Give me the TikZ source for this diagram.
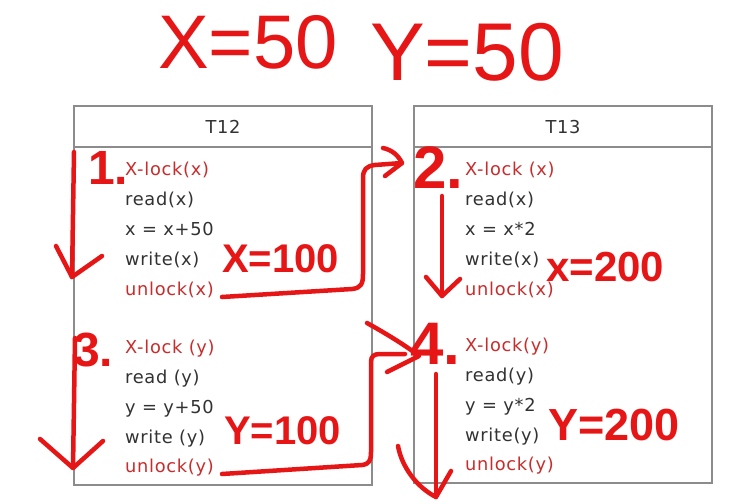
\documentclass[tikz,border=0pt]{standalone}
\usepackage{fontspec}
\setmainfont{DejaVu Sans}[LetterSpace=4]
\newfontfamily\handfont{Liberation Sans}
\definecolor{pen}{RGB}{230,22,22}
\definecolor{txtred}{RGB}{200,45,45}
\definecolor{txtdark}{RGB}{50,50,50}
\definecolor{boxgray}{RGB}{140,140,140}
\newcommand{\rowfont}{\fontsize{17.8}{20}\selectfont}
\tikzset{
  boxline/.style={draw=boxgray, line width=1.5pt},
  row/.style={anchor=base west, inner sep=0pt, font=\rowfont, text=txtdark},
  lockrow/.style={row, text=txtred},
  hdr/.style={anchor=base, inner sep=0pt, font=\rowfont, text=txtdark},
  penline/.style={draw=pen, line width=4.5pt, line cap=round, line join=round},
  hand/.style={anchor=base west, inner sep=0pt, text=pen, font=\handfont\bfseries\fontsize{#1}{#1}\selectfont},
  handthin/.style={anchor=base west, inner sep=0pt, text=pen, font=\handfont\fontsize{#1}{#1}\selectfont}
}
\begin{document}
\begin{tikzpicture}[x=1pt,y=-1pt]
\useasboundingbox (0,0) rectangle (735,503);
\fill[white] (0,0) rectangle (735,503);

% tables
\draw[boxline] (74,106) rectangle (372,485);
\draw[boxline] (74,147) -- (372,147);
\draw[boxline] (414,106) rectangle (712,483);
\draw[boxline] (414,147) -- (712,147);

\node[hdr] (h12) at (223,133) {T12};
\node[hdr] (h13) at (563,133) {T13};

% T12 rows
\node[lockrow] (a1) at (125,175) {X-lock(x)};
\node[row]     (a2) at (125,205) {read(x)};
\node[row]     (a3) at (125,235) {x = x+50};
\node[row]     (a4) at (125,265) {write(x)};
\node[lockrow] (a5) at (125,295) {unlock(x)};
\node[lockrow] (b1) at (125,353) {X-lock (y)};
\node[row]     (b2) at (125,383) {read (y)};
\node[row]     (b3) at (125,413) {y = y+50};
\node[row]     (b4) at (125,443) {write (y)};
\node[lockrow] (b5) at (125,472) {unlock(y)};

% T13 rows
\node[lockrow] (c1) at (465,175) {X-lock (x)};
\node[row]     (c2) at (465,205) {read(x)};
\node[row]     (c3) at (465,235) {x = x*2};
\node[row]     (c4) at (465,265) {write(x)};
\node[lockrow] (c5) at (465,295) {unlock(x)};
\node[lockrow] (d1) at (465,351) {X-lock(y)};
\node[row]     (d2) at (465,381) {read(y)};
\node[row]     (d3) at (465,411) {y = y*2};
\node[row]     (d4) at (465,441) {write(y)};
\node[lockrow] (d5) at (465,470) {unlock(y)};

% handwritten labels
\node[handthin=76] (tx) at (158,68) {X=50};
\node[handthin=82] (ty) at (370,80) {Y=50};
\node[hand=48] (n1) at (88,184) {1.};
\node[hand=60] (n2) at (413,188) {2.};
\node[hand=48] (n3) at (73,366) {3.};
\node[hand=60] (n4) at (410,364) {4.};
\node[hand=40] (v1) at (222,272) {X=100};
\node[hand=42] (v2) at (546,281) {x=200};
\node[hand=40] (v3) at (224,444) {Y=100};
\node[hand=45] (v4) at (548,440) {Y=200};

% handwritten arrows
\coordinate (p1) at (74,152);
\coordinate (p1e) at (72,277);
\draw[penline] (p1) -- (p1e);
\draw[penline] (56,246) -- (p1e) -- (102,256);

\coordinate (q1) at (402,163);
\draw[penline] ([xshift=8pt,yshift=-2pt]a5.base east) -- (352,289) .. controls (361,288) and (363,284) .. (363,274)
   -- (363,178) .. controls (363,170) and (366,166) .. (375,165) -- (q1);
\draw[penline] (383,148) .. controls (392,150) and (398,155) .. (q1) -- (385,176);

\coordinate (r0) at (442,196);
\coordinate (r1) at (442,296);
\draw[penline] (r0) -- (r1);
\draw[penline] (426,277) -- (r1) -- (460,279);

\coordinate (s0) at (75,338);
\coordinate (s1) at (73,468);
\draw[penline] (s0) -- (s1);
\draw[penline] (40,439) -- (s1) -- (103,441);

\coordinate (t1) at (419,356);
\draw[penline] ([xshift=8pt,yshift=-2pt]b5.base east) -- (362,465) .. controls (369,464) and (371,461) .. (371,452)
   -- (371,362) .. controls (371,356) and (374,354) .. (380,354) -- (405,354);
\draw[penline] (367,323) .. controls (385,333) and (405,345) .. (t1) -- (387,372);

\coordinate (u0) at (436,374);
\coordinate (u1) at (436,497);
\draw[penline] (u0) -- (u1);
\draw[penline] (398,446) .. controls (402,468) and (418,488) .. (u1) -- (451,471);
\end{tikzpicture}
\end{document}
